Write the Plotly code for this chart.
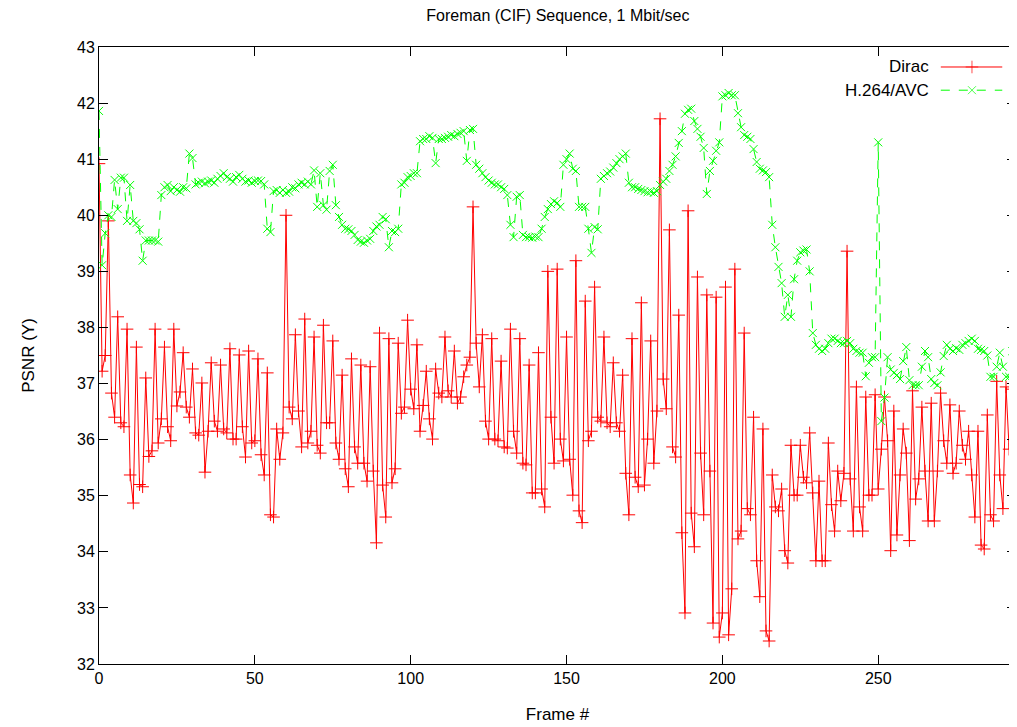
import plotly.graph_objects as go

dirac = [
    40.92, 37.22, 37.5, 39.9, 36.83, 36.4, 38.19, 36.3, 36.23, 37.97,
    35.37, 34.87, 37.65, 35.2, 35.16, 37.1, 35.7, 35.8, 37.97, 35.94,
    36.37, 37.65, 36.23, 35.98, 37.97, 36.6, 36.85, 37.55, 36.58, 36.4,
    37.26, 36.12, 36.08, 37.01, 35.42, 36.15, 37.37, 36.33, 36.15, 37.33,
    36.19, 36.12, 37.62, 36.01, 36.01, 37.51, 36.23, 35.69, 37.58, 35.94,
    35.98, 37.44, 35.73, 35.37, 37.19, 34.66, 34.62, 36.19, 35.65, 36.12,
    40.0, 36.58, 36.37, 37.87, 36.51, 35.87, 38.15, 35.94, 36.15, 37.83,
    35.9, 35.76, 38.04, 36.3, 36.3, 37.76, 35.94, 35.65, 37.15, 35.48,
    35.16, 37.44, 35.87, 35.58, 37.33, 35.58, 35.26, 37.3, 35.44, 34.16,
    37.9, 35.19, 34.62, 37.8, 35.23, 35.48, 37.72, 36.47, 36.58, 38.13,
    36.9, 36.55, 37.69, 36.15, 36.61, 37.22, 36.37, 36.01, 37.26, 36.83,
    36.76, 37.83, 36.87, 36.76, 37.58, 36.65, 36.76, 37.12, 37.33, 37.47,
    40.15, 37.72, 36.94, 37.87, 36.33, 36.01, 37.8, 36.01, 35.98, 37.4,
    35.87, 35.85, 37.97, 36.15, 35.76, 37.8, 35.58, 35.55, 37.33, 35.05,
    35.05, 37.55, 35.12, 34.8, 39.0, 36.4, 35.58, 39.04, 36.01, 35.62,
    37.83, 35.65, 35.01, 39.19, 34.73, 34.52, 38.47, 35.98, 36.15, 38.72,
    36.4, 36.33, 37.83, 36.3, 36.23, 37.37, 36.3, 36.15, 37.15, 35.4,
    34.66, 37.8, 35.33, 35.16, 38.44, 35.19, 36.01, 37.76, 35.58, 36.51,
    41.72, 37.08, 36.55, 39.74, 35.87, 35.69, 38.22, 34.34, 32.91, 40.08,
    34.69, 34.09, 38.9, 35.76, 34.66, 38.58, 35.44, 32.73, 38.54, 32.48,
    32.91, 38.72, 32.52, 33.34, 39.04, 34.23, 34.37, 37.9, 34.77, 34.66,
    36.4, 33.84, 33.2, 36.19, 32.59, 32.41, 35.37, 34.8, 34.73, 35.12,
    34.02, 33.8, 35.9, 35.01, 35.01, 35.9, 35.33, 35.23, 36.12, 35.05,
    33.84, 35.26, 33.84, 33.84, 35.94, 34.84, 34.37, 35.44, 34.91, 35.4,
    39.36, 35.3, 34.37, 36.94, 34.8, 34.37, 36.76, 35.01, 35.01, 36.8,
    35.12, 35.83, 36.76, 35.98, 34.02, 36.51, 34.3, 35.37, 36.19, 35.76,
    34.2, 36.87, 34.94, 35.3, 36.58, 35.44, 34.55, 36.65, 34.55, 35.44,
    36.83, 35.98, 35.58, 36.62, 35.4, 35.58, 36.51, 35.9, 35.65, 36.15,
    35.37, 34.62, 36.15, 34.12, 34.05, 36.44, 34.66, 34.55, 37.04, 35.37,
    34.77, 36.94, 35.83, 36.9, 34.55,
]

h264 = [
    41.86, 39.11, 39.68, 40.0, 39.97, 40.63, 40.11, 40.67, 40.67, 39.9,
    40.54, 39.9, 39.86, 39.75, 39.19, 39.55, 39.55, 39.55, 39.55, 39.53,
    40.36, 40.5, 40.54, 40.43, 40.5, 40.45, 40.42, 40.5, 40.48, 41.1,
    41.02, 40.55, 40.58, 40.6, 40.57, 40.6, 40.62, 40.58, 40.65, 40.7,
    40.75, 40.68, 40.65, 40.6, 40.68, 40.72, 40.65, 40.6, 40.62, 40.58,
    40.61, 40.62, 40.61, 40.55, 39.76, 39.7, 40.43, 40.45, 40.4, 40.45,
    40.4, 40.42, 40.5, 40.48, 40.55, 40.58, 40.55, 40.6, 40.55, 40.8,
    40.15, 40.75, 40.18, 40.1, 40.79, 40.9, 40.18, 39.97, 39.83, 39.76,
    39.75, 39.72, 39.65, 39.56, 39.53, 39.51, 39.55, 39.58, 39.72, 39.8,
    39.83, 39.97, 39.93, 39.43, 39.72, 39.7, 39.76, 40.55, 40.58, 40.68,
    40.7, 40.75, 40.75, 41.32, 41.36, 41.36, 41.41, 41.38, 40.93, 41.36,
    41.36, 41.38, 41.4, 41.43, 41.41, 41.45, 41.47, 41.5, 40.97, 41.52,
    41.54, 40.9, 40.83, 40.75, 40.68, 40.62, 40.58, 40.55, 40.55, 40.5,
    40.47, 40.36, 39.83, 39.61, 40.33, 40.36, 39.65, 39.61, 39.61, 39.6,
    39.62, 39.61, 39.76, 39.97, 40.11, 40.2, 40.25, 40.22, 40.15, 40.9,
    41.0, 41.1, 40.83, 40.79, 40.15, 40.15, 40.15, 39.76, 39.33, 39.79,
    39.75, 40.65, 40.7, 40.75, 40.78, 40.85, 40.93, 41.0, 41.05, 41.1,
    40.58, 40.5, 40.5, 40.47, 40.45, 40.43, 40.41, 40.42, 40.4, 40.43,
    40.54, 40.6, 40.65, 40.79, 40.9, 41.05, 41.29, 41.5, 41.81, 41.88,
    41.9, 41.68, 41.54, 41.4, 41.2, 40.38, 40.79, 40.97, 41.15, 41.3,
    42.12, 42.14, 42.18, 42.14, 42.14, 41.82, 41.57, 41.43, 41.4, 41.36,
    41.18, 40.95, 40.83, 40.8, 40.77, 40.68, 39.83, 39.43, 39.08, 38.79,
    38.19, 38.58, 38.19, 38.86, 39.19, 39.34, 39.37, 39.39, 39.0, 37.9,
    37.69, 37.62, 37.58, 37.62, 37.72, 37.8, 37.8, 37.76, 37.72, 37.72,
    37.76, 37.72, 37.62, 37.58, 37.55, 37.55, 37.13, 37.37, 37.47, 37.47,
    41.3, 36.33, 36.75, 37.47, 37.25, 37.19, 37.15, 37.08, 37.4, 37.65,
    37.06, 36.97, 36.97, 36.97, 37.3, 37.58, 37.47, 37.08, 37.01, 36.97,
    37.2, 37.49, 37.69, 37.62, 37.58, 37.63, 37.6, 37.69, 37.72, 37.76,
    37.8, 37.76, 37.62, 37.6, 37.58, 37.5, 37.12, 37.12, 37.3, 37.55,
    37.3, 37.12, 37.12, 37.58, 37.3,
]

frames = list(range(len(dirac)))
x_ticks = [0, 50, 100, 150, 200, 250]
y_ticks = [32, 33, 34, 35, 36, 37, 38, 39, 40, 41, 42, 43]
series_names = ["Dirac", "H.264/AVC"]

RED = "#ff0000"
GREEN = "#00ff00"
FONT = "Liberation Sans, Arial, Helvetica, sans-serif"
FS = 16
FS_LBL = 17

fig = go.Figure()
fig.add_trace(go.Scatter(
    x=frames, y=dirac, mode="lines+markers", name=series_names[0],
    line=dict(color=RED, width=1),
    marker=dict(symbol="cross-thin-open", size=9, line=dict(color=RED, width=1)),
    hoverinfo="skip"))
fig.add_trace(go.Scatter(
    x=frames[:len(h264)], y=h264, mode="lines+markers", name=series_names[1],
    line=dict(color=GREEN, width=1, dash="dash"),
    marker=dict(symbol="x-thin-open", size=8, line=dict(color=GREEN, width=1)),
    hoverinfo="skip"))

# gnuplot-style key (text left of the sample) drawn on an overlay unit axis
key_y = [0.9676, 0.930]
fig.add_trace(go.Scatter(
    x=[0.918, 0.952, 0.985], y=[key_y[0]] * 3, xaxis="x2", yaxis="y2",
    mode="lines+markers", line=dict(color=RED, width=1),
    marker=dict(symbol="cross-thin-open", size=[0, 9, 0], line=dict(color=RED, width=1)),
    hoverinfo="skip"))
fig.add_trace(go.Scatter(
    x=[0.918, 0.952, 0.985], y=[key_y[1]] * 3, xaxis="x2", yaxis="y2",
    mode="lines+markers", line=dict(color=GREEN, width=1, dash="dash"),
    marker=dict(symbol="x-thin-open", size=[0, 8, 0], line=dict(color=GREEN, width=1)),
    hoverinfo="skip"))
for name, yy in zip(series_names, key_y):
    fig.add_annotation(x=0.907, y=yy, xref="paper", yref="paper", text=name,
                       showarrow=False, xanchor="right", yanchor="middle",
                       font=dict(family=FONT, size=FS_LBL, color="#000000"))

axis_common = dict(showline=True, linecolor="#000000", linewidth=1, mirror="ticks",
                   ticks="inside", ticklen=9, tickwidth=1, tickcolor="#000000",
                   showgrid=False, zeroline=False, automargin=False,
                   tickfont=dict(family=FONT, size=FS, color="#000000"))

# the page body has an 8px margin, so the figure is sized/offset to compensate
fig.update_layout(
    width=1009, height=719,
    margin=dict(l=91, r=1, t=39, b=63),
    paper_bgcolor="#ffffff", plot_bgcolor="#ffffff",
    showlegend=False,
    title=dict(text="Foreman (CIF) Sequence, 1 Mbit/sec", x=0.545, xanchor="center",
               y=0.997, yanchor="top",
               font=dict(family=FONT, size=16, color="#000000")),
    xaxis=dict(range=[0, 294.2], tickvals=x_ticks,
               title=dict(text="Frame #", font=dict(family=FONT, size=FS_LBL, color="#000000"),
                          standoff=21),
               **axis_common),
    yaxis=dict(range=[32, 43], tickvals=y_ticks,
               title=dict(text="PSNR (Y)", font=dict(family=FONT, size=FS_LBL, color="#000000"),
                          standoff=38),
               **axis_common),
    xaxis2=dict(range=[0, 1], overlaying="x", visible=False, anchor="y2"),
    yaxis2=dict(range=[0, 1], overlaying="y", visible=False, anchor="x2"),
)

fig.write_html("out.html")
